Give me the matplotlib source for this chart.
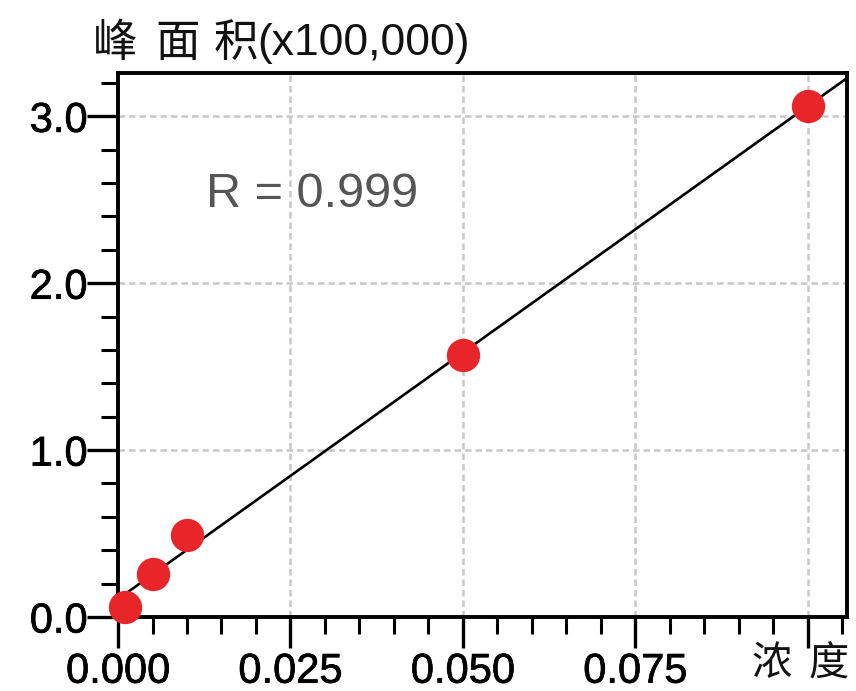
import numpy as np
import matplotlib
matplotlib.use("Agg")
import matplotlib.pyplot as plt
import matplotlib.patheffects as pe
from matplotlib.ticker import MultipleLocator, FixedLocator

# calibration standards: concentration vs peak area (x100,000)
concentration = [0.001, 0.005, 0.010, 0.050, 0.100]
peak_area = [0.06, 0.26, 0.49, 1.57, 3.06]
x_ticks = [0.000, 0.025, 0.050, 0.075]
x_tick_labels = ["0.000", "0.025", "0.050", "0.075"]
y_ticks = [0.0, 1.0, 2.0, 3.0]
y_tick_labels = ["0.0", "1.0", "2.0", "3.0"]
r_text = "R = 0.999"

plt.rcParams["font.family"] = ["Liberation Sans", "Noto Sans CJK SC"]

fig = plt.figure(figsize=(8.56, 6.91), dpi=100)
ax = fig.add_axes([0.1379, 0.1071, 0.9895 - 0.1379, 0.8944 - 0.1071])

x_max, y_max = 0.1057, 3.26
ax.set_xlim(0, x_max)
ax.set_ylim(0, y_max)

# least-squares calibration line
slope, icpt = np.polyfit(concentration, peak_area, 1)
xs = np.array([0, x_max])
ax.plot(xs, slope * xs + icpt, color="black", lw=1.9, zorder=3)

ax.plot(concentration, peak_area, "o", ms=24, color="#e8262a", mec="none",
        zorder=4, clip_on=False)

ax.xaxis.set_major_locator(FixedLocator(x_ticks + [0.1]))
ax.set_xticklabels(x_tick_labels + [""])
ax.xaxis.set_minor_locator(MultipleLocator(0.005))
ax.yaxis.set_major_locator(FixedLocator(y_ticks))
ax.set_yticklabels(y_tick_labels)
ax.yaxis.set_minor_locator(MultipleLocator(0.2))

ax.tick_params(which="major", direction="out", length=22, width=2.4,
               labelsize=30, color="black")
ax.tick_params(axis="x", which="major", pad=3)
ax.tick_params(axis="y", which="major", pad=0)
ax.tick_params(which="minor", direction="out", length=12, width=2.2,
               color="black")

# slightly heavier than regular weight
heavy = [pe.withStroke(linewidth=0.5, foreground="black")]
for lab in ax.get_xticklabels() + ax.get_yticklabels():
    lab.set_path_effects(heavy)

for sp in ax.spines.values():
    sp.set_linewidth(2.8)

ax.grid(True, which="major", color="#c8c8c8", lw=1.8, ls=(0, (2.6, 1.6)))
ax.set_axisbelow(True)

ax.text(0.0128, 2.53, r_text, fontsize=35, color="#555555", va="center",
        ha="left")

# y-axis title above the plot, x-axis title in place of the 0.100 label
title_pieces = [(93, "峰"), (155, "面"), (214, "积"), (257, "(x100,000)")]
for px, s in title_pieces:
    fig.text(px / 856, 1 - 44 / 691, s, fontsize=32, va="center", ha="left",
             color="#111111")
fig.text(752 / 856, 1 - 664 / 691, "浓", fontsize=29, va="center", ha="left",
         color="#111111")
fig.text(849 / 856, 1 - 664 / 691, "度", fontsize=29, va="center", ha="right",
         color="#111111")

plt.savefig("out.png", dpi=100)
